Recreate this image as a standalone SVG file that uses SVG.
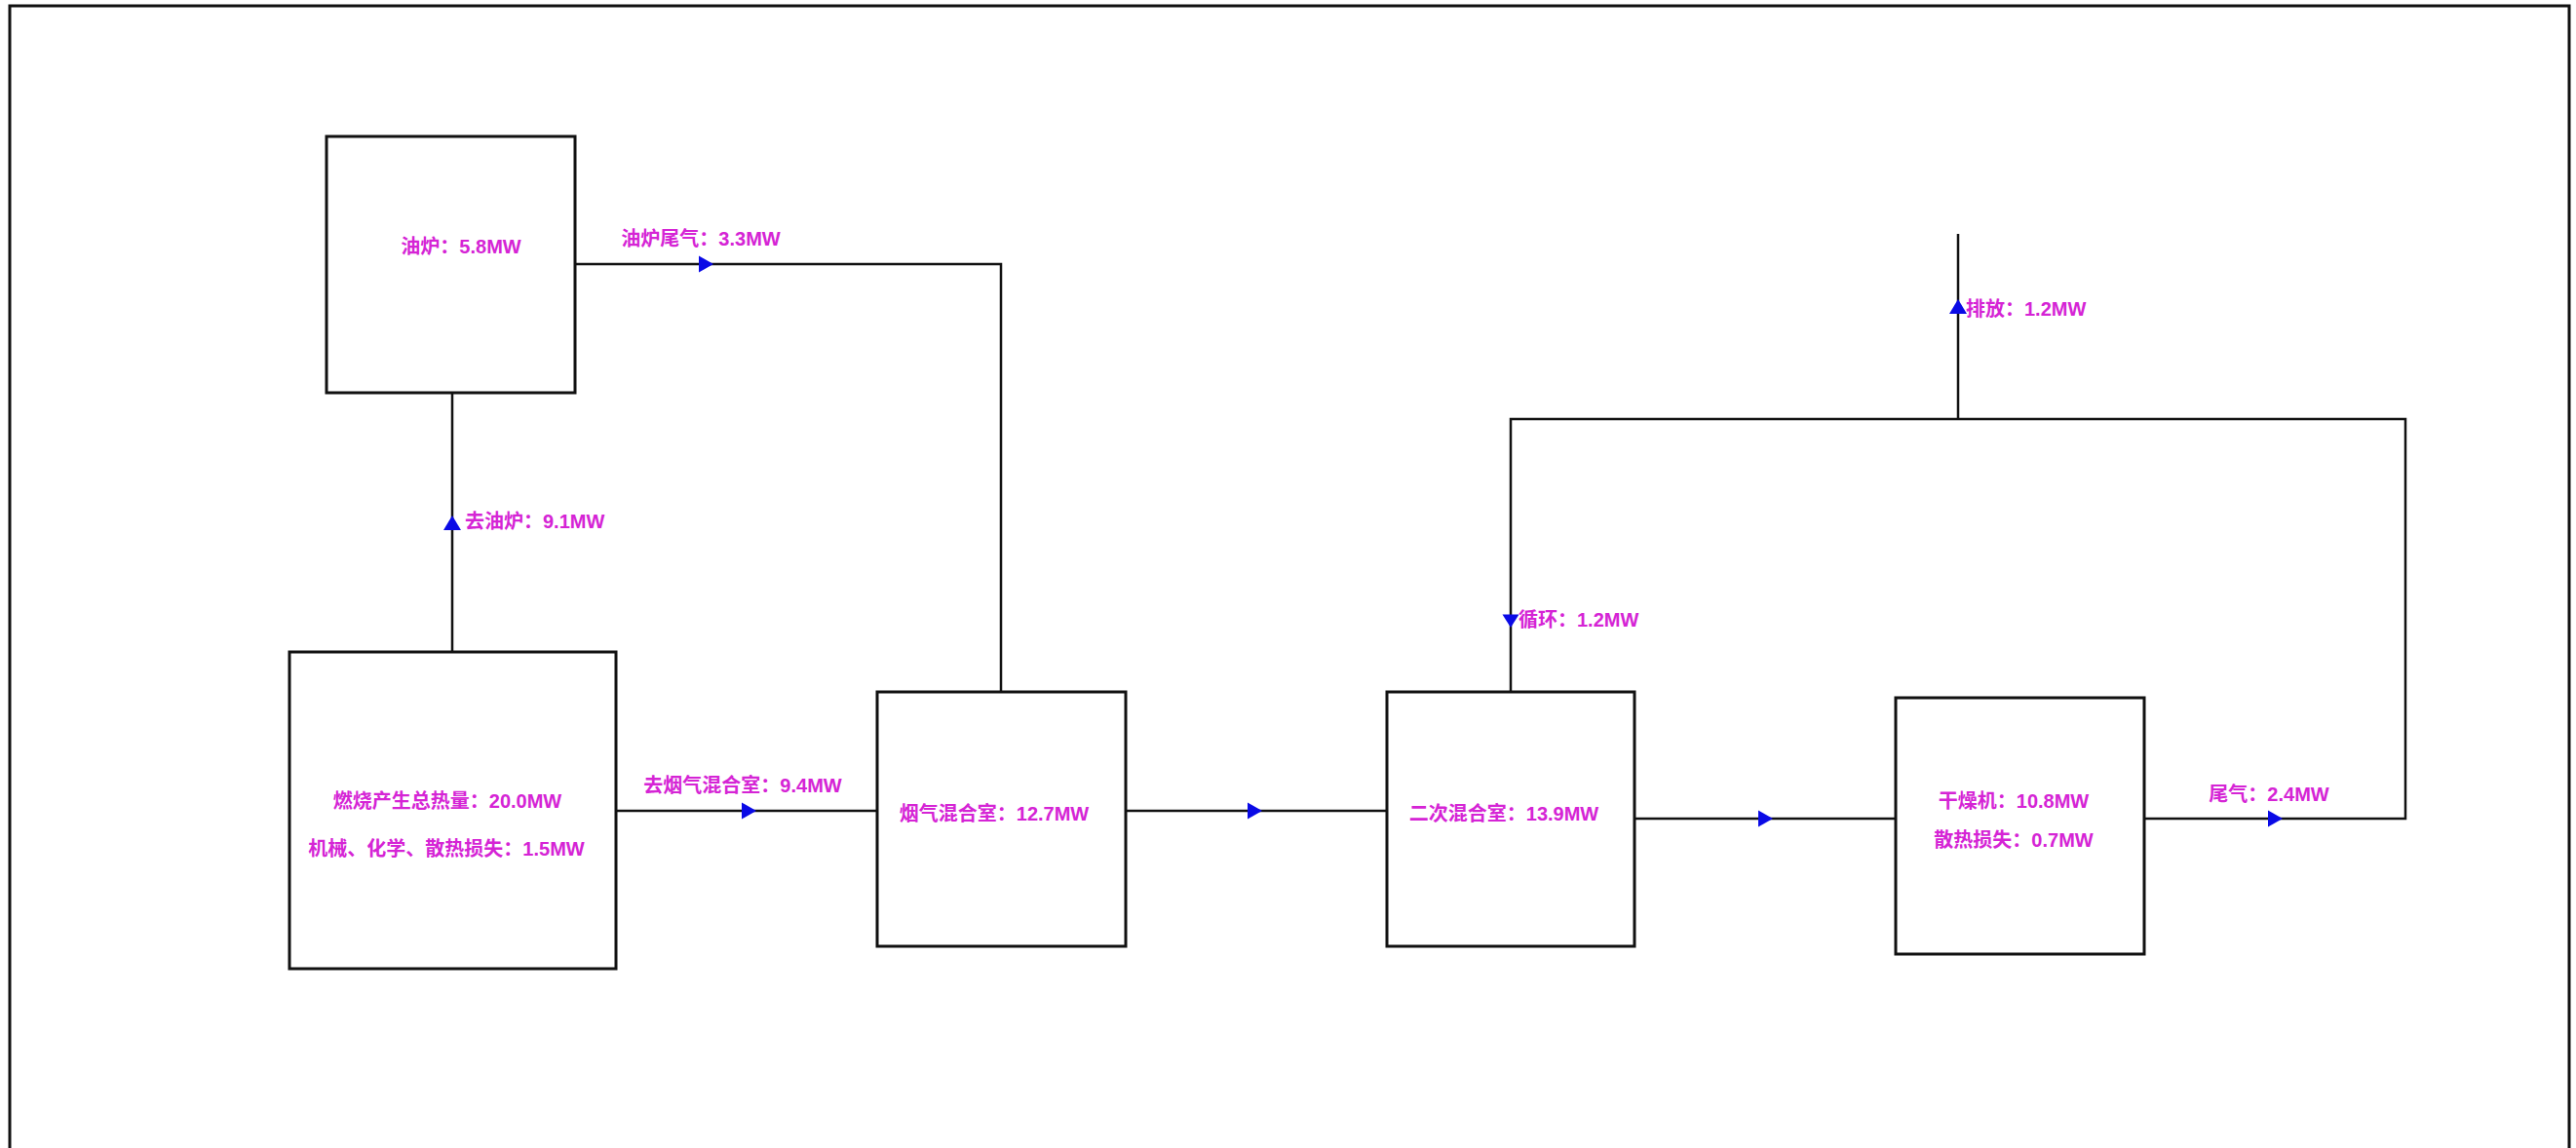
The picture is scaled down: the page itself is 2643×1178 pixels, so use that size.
<svg xmlns="http://www.w3.org/2000/svg" xmlns:xlink="http://www.w3.org/1999/xlink" width="2643" height="1178" viewBox="0 0 2643 1178">
<style>
.box{fill:#fff;stroke:#111;stroke-width:3}
.ln{fill:none;stroke:#111;stroke-width:2.5}
.lbl{font-family:"Liberation Sans","Noto Sans CJK SC",sans-serif;font-weight:bold;font-size:20px;fill:#D524D5}
.c{text-anchor:middle}
.arr{fill:#0A0AE6}
</style>
<defs>
<polygon id="aR" class="arr" points="-7,-8.5 8,0 -7,8.5"/>
<polygon id="aU" class="arr" points="-9,7 0,-8 9,7"/>
<polygon id="aD" class="arr" points="-8.5,-6.5 8.5,-6.5 0,7"/>
</defs>
<rect width="2643" height="1178" fill="#fff"/>
<path d="M10,1190 V6 H2636 V1190" fill="none" stroke="#111" stroke-width="3"/>
<g id="connectors">
<path class="ln" d="M464,669 V403"/>
<path class="ln" d="M590,271 H1027 V710"/>
<path class="ln" d="M632,832 H900"/>
<path class="ln" d="M1155,832 H1423"/>
<path class="ln" d="M1677,840 H1945"/>
<path class="ln" d="M2200,840 H2468 V430 H1550 V710"/>
<path class="ln" d="M2009,430 V240"/>
<use xlink:href="#aU" x="464" y="537"/>
<use xlink:href="#aR" x="724" y="271"/>
<use xlink:href="#aR" x="768" y="832"/>
<use xlink:href="#aR" x="1287" y="832"/>
<use xlink:href="#aR" x="1811" y="840"/>
<use xlink:href="#aR" x="2334" y="840"/>
<use xlink:href="#aD" x="1550" y="637"/>
<use xlink:href="#aU" x="2009" y="315"/>
<text class="lbl c" x="719" y="252">油炉尾气：3.3MW</text>
<text class="lbl" x="477" y="542">去油炉：9.1MW</text>
<text class="lbl c" x="762" y="813">去烟气混合室：9.4MW</text>
<text class="lbl" x="1558" y="643">循环：1.2MW</text>
<text class="lbl" x="2017" y="324">排放：1.2MW</text>
<text class="lbl c" x="2328" y="822">尾气：2.4MW</text>
</g>
<g id="oil-furnace">
<rect class="box" x="335" y="140" width="255" height="263"/>
<text class="lbl c" x="473" y="260">油炉：5.8MW</text>
</g>
<g id="combustion">
<rect class="box" x="297" y="669" width="335" height="325"/>
<text class="lbl c" x="459" y="829">燃烧产生总热量：20.0MW</text>
<text class="lbl c" x="458" y="878">机械、化学、散热损失：1.5MW</text>
</g>
<g id="flue-gas-mixing">
<rect class="box" x="900" y="710" width="255" height="261"/>
<text class="lbl c" x="1020" y="842">烟气混合室：12.7MW</text>
</g>
<g id="secondary-mixing">
<rect class="box" x="1423" y="710" width="254" height="261"/>
<text class="lbl c" x="1543" y="842">二次混合室：13.9MW</text>
</g>
<g id="dryer">
<rect class="box" x="1945" y="716" width="255" height="263"/>
<text class="lbl c" x="2066" y="829">干燥机：10.8MW</text>
<text class="lbl c" x="2066" y="869">散热损失：0.7MW</text>
</g>
</svg>
